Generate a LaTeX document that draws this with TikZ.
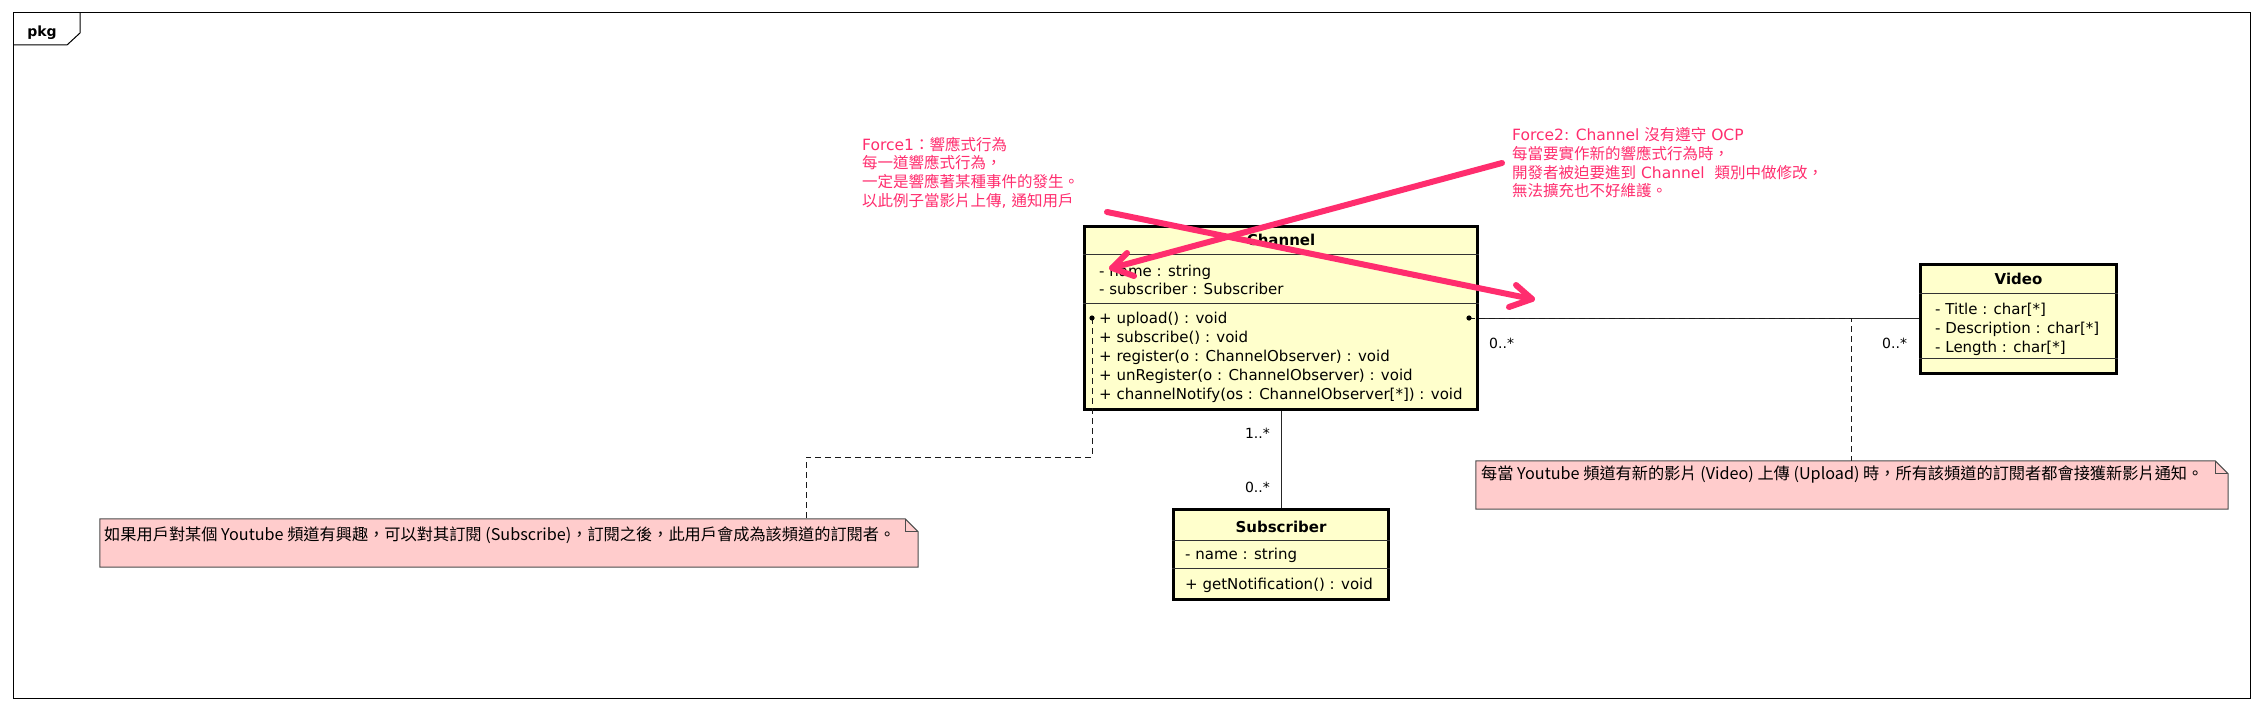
\documentclass[tikz,border=0pt]{standalone}
\usepackage{fontspec}
\setmainfont{DejaVu Sans}
\newfontfamily\cjk{Noto Sans CJK TC}
\definecolor{clsfill}{HTML}{FFFFCC}
\definecolor{notefill}{HTML}{FFCCCC}
\definecolor{pinkpen}{RGB}{255,45,110}
\begin{document}
\begin{tikzpicture}[x=1pt,y=-1pt,
  clsbox/.style={draw=black, line width=2.8pt, fill=clsfill, inner sep=0pt},
  divider/.style={line width=0.9pt, draw=black!80},
  mem/.style={anchor=base west, inner sep=0pt, font=\fontsize{15}{19}\selectfont},
  ttl/.style={anchor=base, inner sep=0pt, font=\bfseries\fontsize{15}{19}\selectfont},
  multr/.style={anchor=base east, inner sep=0pt, font=\fontsize{14}{17}\selectfont},
  multl/.style={anchor=base west, inner sep=0pt, font=\fontsize{14}{17}\selectfont},
  assoc/.style={line width=1pt, draw=black!85},
  noteconn/.style={line width=1pt, draw=black!90, dash pattern=on 6pt off 4pt},
  notebox/.style={inner sep=0pt, draw=none},
  noteshape/.style={fill=notefill, draw=black!70, line width=1pt},
  notetxt/.style={anchor=base west, inner sep=0pt, font=\cjk\fontsize{16.2}{19}\selectfont},
  pentxt/.style={anchor=base west, inner sep=0pt, text=pinkpen, font=\fontsize{15.5}{18.7}\selectfont},
  pen/.style={draw=pinkpen, line width=6pt, line cap=round, line join=round}]
\useasboundingbox (0,0) rectangle (2262,709);
% frame
\draw[line width=1pt] (13,13) rectangle (2250,698);
\draw[line width=1pt] (13,45) -- (67,45) -- (80,33) -- (80,13);
\node[inner sep=0pt, anchor=base, font=\bfseries\fontsize{14}{17}\selectfont] (pkg) at (42,37) {pkg};

% Channel
\node[clsbox, minimum width=393pt, minimum height=183pt] (ch) at (1281,318) {};
\draw[divider] (ch.west |- 0,254) -- (ch.east |- 0,254);
\draw[divider] (ch.west |- 0,303) -- (ch.east |- 0,303);
\node[ttl] (chT) at (1281,245) {Channel};
\node[mem] (chA1) at (1099,276) {- name : string};
\node[mem] (chA2) at (1099,294) {- subscriber : Subscriber};
\node[mem] (chO1) at (1099,323) {+ upload() : void};
\node[mem] (chO2) at (1099,342) {+ subscribe() : void};
\node[mem] (chO3) at (1099,361) {+ register(o : ChannelObserver) : void};
\node[mem] (chO4) at (1099,380) {+ unRegister(o : ChannelObserver) : void};
\node[mem] (chO5) at (1099,399) {+ channelNotify(os : ChannelObserver[*]) : void};

% Video
\node[clsbox, minimum width=196pt, minimum height=109pt] (vid) at (2018.5,319) {};
\draw[divider] (vid.west |- 0,293) -- (vid.east |- 0,293);
\draw[divider] (vid.west |- 0,358) -- (vid.east |- 0,358);
\node[ttl] (vidT) at (2018.5,284) {Video};
\node[mem] (vidA1) at (1935,314) {- Title : char[*]};
\node[mem] (vidA2) at (1935,333) {- Description : char[*]};
\node[mem] (vidA3) at (1935,352) {- Length : char[*]};

% Subscriber
\node[clsbox, minimum width=215pt, minimum height=90pt] (sub) at (1281,554.5) {};
\draw[divider] (sub.west |- 0,540) -- (sub.east |- 0,540);
\draw[divider] (sub.west |- 0,568) -- (sub.east |- 0,568);
\node[ttl] (subT) at (1281,532) {Subscriber};
\node[mem] (subA1) at (1185,559) {- name : string};
\node[mem] (subO1) at (1185,589) {+ getNotification() : void};

% associations
\draw[assoc] (ch.east) -- (ch.east -| vid.west);
\draw[assoc] (ch.south) -- (sub.north);
\node[multl] (m1) at (1489,348) {0..*};
\node[multl] (m2) at (1882,348) {0..*};
\node[multr] (m3) at (1270,438) {1..*};
\node[multr] (m4) at (1270,492) {0..*};

% notes
\node[notebox, minimum width=818pt, minimum height=48pt] (nL) at (509,543) {};
\filldraw[noteshape] (nL.north west) -- ([xshift=-13pt]nL.north east) -- ([yshift=-13pt]nL.north east) -- (nL.south east) -- (nL.south west) -- cycle;
\draw[noteshape, fill=none] ([xshift=-13pt]nL.north east) -- ([xshift=-13pt,yshift=-13pt]nL.north east) -- ([yshift=-13pt]nL.north east);
\node[notetxt] (nLt) at (104,540) {如果用戶對某個 Youtube 頻道有興趣，可以對其訂閱 (Subscribe)，訂閱之後，此用戶會成為該頻道的訂閱者。};

\node[notebox, minimum width=752pt, minimum height=48pt] (nR) at (1852,485) {};
\filldraw[noteshape] (nR.north west) -- ([xshift=-13pt]nR.north east) -- ([yshift=-13pt]nR.north east) -- (nR.south east) -- (nR.south west) -- cycle;
\draw[noteshape, fill=none] ([xshift=-13pt]nR.north east) -- ([xshift=-13pt,yshift=-13pt]nR.north east) -- ([yshift=-13pt]nR.north east);
\node[notetxt] (nRt) at (1481,479) {每當 Youtube 頻道有新的影片 (Video) 上傳 (Upload) 時，所有該頻道的訂閱者都會接獲新影片通知。};

% note connectors
\coordinate (dL) at (1092,318);
\coordinate (dR) at (1469,318);
\coordinate (bL) at (806,457);
\coordinate (bR) at (1851,318);
\draw[noteconn] (dL) |- (bL) -- (bL |- nL.north);
\draw[noteconn] (dR) -- (bR) -- (bR |- nR.north);
\fill (dL) circle (2.6);
\fill (dR) circle (2.6);

% pink annotations
\node[pentxt] (f1a) at (862,150) {Force1{\cjk ：響應式行為}};
\node[pentxt] (f1b) at (862,168) {\cjk 每一道響應式行為，};
\node[pentxt] (f1c) at (862,187) {\cjk 一定是響應著某種事件的發生。};
\node[pentxt] (f1d) at (862,206) {{\cjk 以此例子當影片上傳}, {\cjk 通知用戶}};
\node[pentxt] (f2a) at (1512,140) {Force2: Channel {\cjk 沒有遵守} OCP};
\node[pentxt] (f2b) at (1512,159) {\cjk 每當要實作新的響應式行為時，};
\node[pentxt] (f2c) at (1512,178) {{\cjk 開發者被迫要進到} Channel\ \ {\cjk 類別中做修改，}};
\node[pentxt] (f2d) at (1512,196) {\cjk 無法擴充也不好維護。};

\coordinate (p1s) at (1107,212);
\coordinate (p1t) at (1532,299);
\coordinate (p1a) at (1516,285);
\coordinate (p1b) at (1509,307);
\draw[pen] (p1s) -- (p1t);
\draw[pen] (p1a) -- (p1t) -- (p1b);
\coordinate (p2s) at (1502,163);
\coordinate (p2t) at (1112,268);
\coordinate (p2a) at (1127,253);
\coordinate (p2b) at (1134,276);
\draw[pen] (p2s) -- (p2t);
\draw[pen] (p2a) -- (p2t) -- (p2b);
\end{tikzpicture}
\end{document}
